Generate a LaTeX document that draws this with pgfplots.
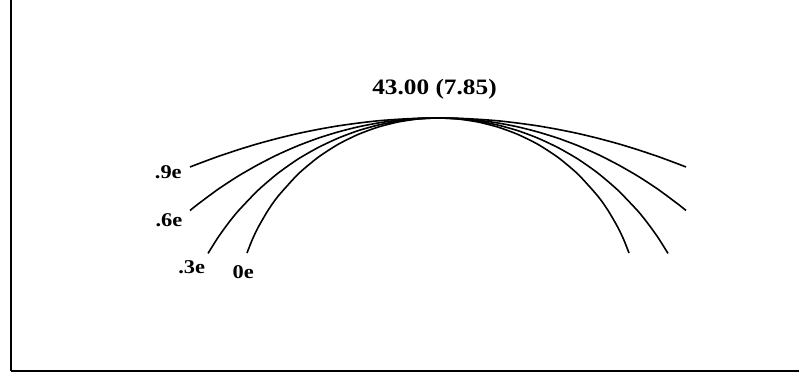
\documentclass[border=0pt]{standalone}
\usepackage{fontspec}
\setmainfont{Liberation Serif}
\newfontfamily\lblfont[FakeStretch=1.15]{Liberation Serif}
\usepackage{pgfplots}
\pgfplotsset{compat=1.18}

\pgfplotsset{profile/.style={black, no markers, line width=1.6pt, line join=round, smooth, tension=0.4}}

\begin{document}
\begin{tikzpicture}
\begin{axis}[
  name=ax,
  scale only axis,
  width=788pt, height=371pt,
  xmin=11, xmax=799, ymin=7, ymax=378,
  axis x line*=bottom, axis y line*=left,
  axis line style={line width=2.4pt, -},
  xtick=\empty, ytick=\empty,
  clip=false,
]
% profile, e = 0
\addplot[profile] coordinates {
 (247,125.0) (252,137.7) (258,150.4) (268,167.6) (278,181.7) (298,203.8)
 (318,220.6) (338,233.6) (358,243.5) (378,250.9) (398,256.0) (418,259.0)
 (438,260.0)
 (458,259.0) (478,256.0) (498,250.9) (518,243.5) (538,233.6) (558,220.6)
 (578,203.8) (598,181.7) (608,167.6) (618,150.4) (624,137.7) (629,125.0)
};
% profile, e = 0.3
\addplot[profile] coordinates {
 (208,124.6) (218,140.5) (228,154.4) (238,166.8) (258,187.7) (278,204.8)
 (298,218.9) (318,230.4) (338,239.8) (358,247.3) (378,252.9) (398,256.9)
 (418,259.2) (438,260.0)
 (458,259.2) (478,256.9) (498,252.9) (518,247.3) (538,239.8) (558,230.4)
 (578,218.9) (598,204.8) (618,187.7) (638,166.8) (648,154.4) (658,140.5)
 (668,124.6)
};
% profile, e = 0.6
\addplot[profile] coordinates {
 (190,167.5) (198,173.9) (218,188.7) (238,201.8) (258,213.3) (278,223.5)
 (298,232.3) (318,239.8) (338,246.0) (358,251.1) (378,255.0) (398,257.8)
 (418,259.5) (438,260.0)
 (458,259.5) (478,257.8) (498,255.0) (518,251.1) (538,246.0) (558,239.8)
 (578,232.3) (598,223.5) (618,213.3) (638,201.8) (658,188.7) (678,173.9)
 (686,167.5)
};
% profile, e = 0.9
\addplot[profile] coordinates {
 (190,211.0) (198,214.1) (218,221.5) (238,228.2) (258,234.3) (278,239.7)
 (298,244.5) (318,248.6) (338,252.1) (358,254.9) (378,257.2) (398,258.7)
 (418,259.7) (438,260.0)
 (458,259.7) (478,258.7) (498,257.2) (518,254.9) (538,252.1) (558,248.6)
 (578,244.5) (598,239.7) (618,234.3) (638,228.2) (658,221.5) (678,214.1)
 (686,211.0)
};

\node[anchor=base, font=\lblfont\bfseries\fontsize{22}{24}\selectfont]
  at (axis cs:434.5,283) {43.00 (7.85)};
\begin{scope}[every node/.style={anchor=base, font=\lblfont\bfseries\fontsize{19.5}{22}\selectfont}]
  \node at (axis cs:168.3,200.0) {.9e};
  \node at (axis cs:169.0,151.3) {.6e};
  \node at (axis cs:191.7,104.7) {.3e};
  \node at (axis cs:243.3,99.7)  {0e};
\end{scope}
\end{axis}
\pgfresetboundingbox
\path[use as bounding box] ([shift={(-11pt,-7pt)}]ax.south west) rectangle (ax.north east);
\end{tikzpicture}
\end{document}
